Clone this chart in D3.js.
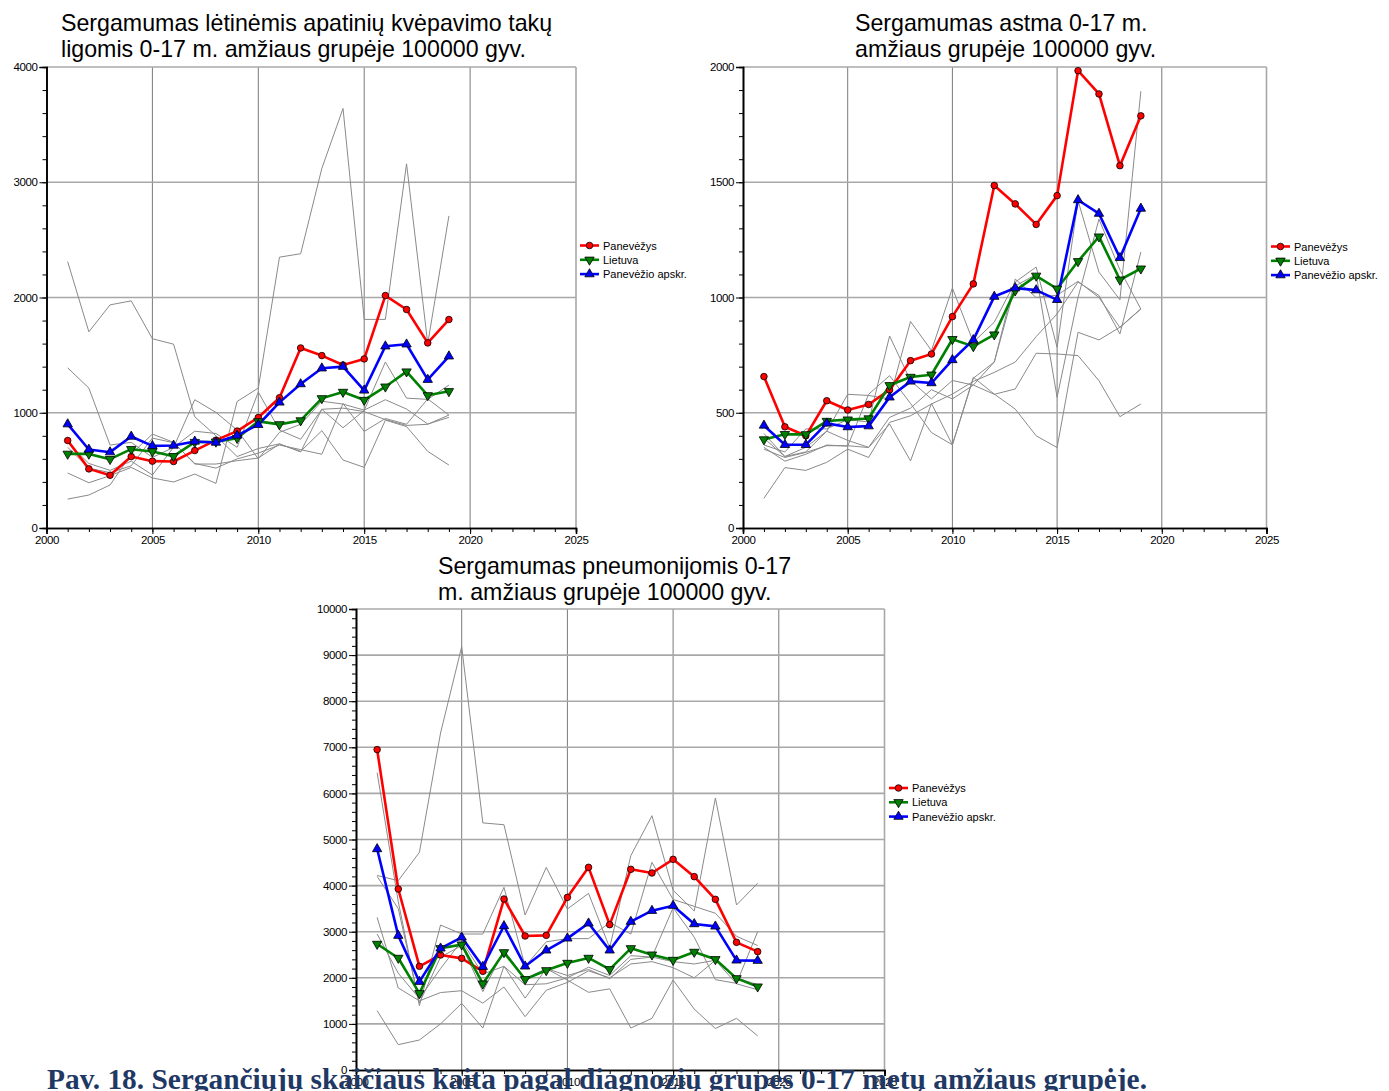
<!DOCTYPE html>
<html>
<head>
<meta charset="utf-8">
<script src="https://cdn.jsdelivr.net/npm/d3@7"></script>
<style>
  body { margin: 0; background: #fff; }
  svg text { font-family: "Liberation Sans", Arial, sans-serif; }
  svg text.caption { font-family: "Liberation Serif", "Times New Roman", serif; }
</style>
</head>
<body>
<svg id="chart" width="1389" height="1091"></svg>
<script>
// Years shown on every panel
const years = [2001, 2002, 2003, 2004, 2005, 2006, 2007, 2008, 2009, 2010,
               2011, 2012, 2013, 2014, 2015, 2016, 2017, 2018, 2019];
const legendLabels = ["Panevėžys", "Lietuva", "Panevėžio apskr."];
const xGridYears = [2005, 2010, 2015, 2020];
const xLabelYears = [2000, 2005, 2010, 2015, 2020, 2025];

// Panel 1: chronic lower respiratory diseases
const copdTitle = ["Sergamumas lėtinėmis apatinių kvėpavimo takų", "ligomis 0-17 m. amžiaus grupėje 100000 gyv."];
const copdPanevezys = [759, 513, 458, 620, 580, 577, 672, 762, 841, 959, 1130, 1562, 1496, 1414, 1467, 2017, 1896, 1606, 1809];
const copdLietuva   = [643, 643, 597, 684, 664, 623, 745, 748, 780, 925, 899, 933, 1125, 1180, 1110, 1226, 1357, 1151, 1186];
const copdApskr     = [901, 681, 658, 794, 713, 716, 751, 742, 803, 896, 1090, 1249, 1386, 1400, 1194, 1577, 1594, 1287, 1490];
const copdOthers = [
  [2311, 1702, 1936, 1971, 1642, 1595, 965, 800, 620, 690, 730, 660, 1030, 1040, 1010, 940, 890, 900, 980],
  [1390, 1214, 720, 743, 613, 699, 1113, 1003, 850, 600, 830, 900, 1100, 1075, 1023, 1113, 1032, 902, 960],
  [477, 393, 454, 526, 434, 399, 468, 387, 1098, 1214, 2350, 2380, 3120, 3640, 1810, 1810, 3160, 1600, 2708],
  [251, 286, 373, 642, 815, 743, 555, 555, 584, 607, 728, 665, 844, 590, 526, 936, 880, 665, 546],
  [740, 560, 500, 580, 460, 700, 840, 820, 700, 1180, 850, 770, 1030, 870, 1020, 1440, 1127, 1116, 1240],
  [700, 520, 480, 540, 780, 740, 560, 520, 600, 650, 720, 680, 640, 1080, 838, 950, 900, 1120, 980]
];

// Panel 2: asthma
const asthmaTitle = ["Sergamumas astma 0-17 m.", "amžiaus grupėje 100000 gyv."];
const asthmaPanevezys = [657, 439, 400, 552, 512, 536, 599, 726, 755, 917, 1059, 1486, 1406, 1317, 1442, 1984, 1883, 1572, 1788];
const asthmaLietuva   = [384, 407, 406, 464, 470, 475, 619, 655, 665, 819, 788, 839, 1030, 1094, 1038, 1157, 1264, 1077, 1125];
const asthmaApskr     = [445, 361, 361, 454, 438, 442, 567, 636, 629, 729, 816, 1004, 1041, 1032, 990, 1423, 1364, 1172, 1386];
const asthmaOthers = [
  [129, 262, 250, 285, 342, 306, 458, 487, 538, 581, 636, 675, 720, 830, 929, 1067, 1009, 842, 1197],
  [342, 306, 328, 357, 357, 349, 451, 291, 540, 361, 654, 581, 516, 400, 349, 849, 816, 871, 951],
  [390, 310, 330, 420, 580, 575, 560, 896, 770, 1041, 806, 893, 1067, 1132, 784, 1420, 1110, 990, 1895],
  [360, 330, 430, 430, 470, 460, 833, 639, 560, 640, 620, 580, 603, 758, 755, 748, 639, 483, 538],
  [350, 290, 320, 360, 355, 580, 661, 540, 414, 361, 650, 720, 1050, 1100, 567, 1000, 1340, 1120, 950],
  [410, 310, 350, 420, 380, 350, 480, 520, 600, 560, 620, 720, 1080, 1000, 1010, 1070, 1000, 870, 950]
];

// Panel 3: pneumonia
const pneuTitle = ["Sergamumas pneumonijomis 0-17", "m. amžiaus grupėje 100000 gyv."];
const pneuPanevezys = [6950, 3926, 2249, 2495, 2422, 2140, 3709, 2907, 2921, 3745, 4396, 3153, 4353, 4273, 4570, 4194, 3702, 2769, 2567];
const pneuLietuva   = [2733, 2430, 1663, 2639, 2719, 1873, 2552, 1967, 2162, 2321, 2430, 2184, 2639, 2502, 2386, 2560, 2401, 1988, 1808];
const pneuApskr     = [4794, 2914, 1916, 2639, 2878, 2241, 3124, 2249, 2596, 2856, 3182, 2596, 3218, 3456, 3565, 3167, 3116, 2379, 2372];
const pneuOthers = [
  [4220, 4107, 4722, 7310, 9183, 5360, 5320, 3362, 4396, 3492, 3832, 2650, 4650, 5516, 3900, 3450, 5900, 3580, 4050],
  [6450, 3651, 1395, 3145, 2950, 2950, 3962, 2250, 2780, 2850, 2850, 3200, 2950, 4505, 3700, 3550, 3400, 2900, 2700],
  [1287, 550, 651, 1000, 1446, 911, 2250, 1560, 2200, 1950, 1685, 1760, 911, 1120, 1952, 1320, 900, 1120, 740],
  [3311, 1780, 1500, 1680, 1720, 1450, 1800, 1157, 1730, 1900, 2150, 2000, 2300, 2350, 2220, 2000, 2380, 1870, 1740],
  [2950, 2100, 1550, 2200, 2800, 2080, 2250, 1850, 1870, 2000, 2230, 2050, 2480, 2450, 3520, 2880, 1960, 1880, 3000],
  [4200, 3500, 1450, 2450, 2700, 1700, 2600, 1980, 2200, 2050, 2180, 1980, 2400, 2450, 2350, 2300, 2380, 2000, 1850]
];

const caption = "Pav. 18. Sergančiųjų skaičiaus kaita pagal diagnozių grupes 0-17 metų amžiaus grupėje.";

const svg = d3.select("#chart");
const seriesColors = ["#ff0000", "#008000", "#0000ff"];

function drawMarker(sel, kind, color) {
  if (kind === 0) {
    sel.append("circle").attr("r", 3.3).attr("fill", color)
      .attr("stroke", "#000").attr("stroke-width", 0.8);
  } else {
    sel.append("path")
      .attr("d", d3.symbol().type(d3.symbolTriangle).size(38)())
      .attr("transform", kind === 1 ? "rotate(180)" : null)
      .attr("fill", color).attr("stroke", "#000").attr("stroke-width", 0.8);
  }
}

function drawPanel(p) {
  const g = svg.append("g");
  const x = d3.scaleLinear().domain([2000, 2025]).range([p.left, p.right]);
  const y = d3.scaleLinear().domain([0, p.yMax]).range([p.bottom, p.top]);
  const majors = d3.range(0, p.yMax + 1, p.yStep);

  // grid
  g.selectAll(".vgrid").data(xGridYears).join("line")
    .attr("x1", d => x(d)).attr("x2", d => x(d))
    .attr("y1", p.top).attr("y2", p.bottom)
    .attr("stroke", "#7a7a7a").attr("stroke-width", 1);
  g.selectAll(".hgrid").data(majors.filter(v => v > 0)).join("line")
    .attr("x1", p.left).attr("x2", p.right)
    .attr("y1", d => y(d)).attr("y2", d => y(d))
    .attr("stroke", "#a8a8a8").attr("stroke-width", 1.6);
  g.append("line").attr("x1", p.right).attr("x2", p.right)
    .attr("y1", p.top).attr("y2", p.bottom)
    .attr("stroke", "#a8a8a8").attr("stroke-width", 1.6);

  // other municipalities
  const line = d3.line().x((d, i) => x(years[i])).y(d => y(d));
  p.others.forEach(s => {
    g.append("path").attr("d", line(s)).attr("fill", "none")
      .attr("stroke", "#8a8a8a").attr("stroke-width", 1);
  });

  // highlighted series
  p.series.forEach((s, k) => {
    g.append("path").attr("d", line(s)).attr("fill", "none")
      .attr("stroke", seriesColors[k]).attr("stroke-width", 2.6)
      .attr("stroke-linejoin", "round");
  });
  p.series.forEach((s, k) => {
    s.forEach((v, i) => {
      const m = g.append("g").attr("transform", `translate(${x(years[i])},${y(v)})`);
      drawMarker(m, k, seriesColors[k]);
    });
  });

  // axes
  const yMinor = g.append("g").attr("transform", `translate(${p.left},0)`)
    .call(d3.axisLeft(y).tickValues(d3.range(0, p.yMax + 1, p.yMinor)).tickSize(4).tickFormat(""));
  const yMajor = g.append("g").attr("transform", `translate(${p.left},0)`)
    .call(d3.axisLeft(y).tickValues(majors).tickSize(7).tickPadding(2).tickFormat(d3.format("d")));
  const xMinor = g.append("g").attr("transform", `translate(0,${p.bottom})`)
    .call(d3.axisBottom(x).tickValues(d3.range(2000, 2026, 1)).tickSize(4).tickFormat(""));
  const xMajor = g.append("g").attr("transform", `translate(0,${p.bottom})`)
    .call(d3.axisBottom(x).tickValues(xLabelYears).tickSize(6).tickPadding(2).tickFormat(d3.format("d")));
  [yMinor, yMajor, xMinor, xMajor].forEach(a => {
    a.select(".domain").attr("stroke", "#000").attr("stroke-width", 1.6);
    a.selectAll(".tick line").attr("stroke", "#000").attr("stroke-width", 1);
    a.selectAll("text").attr("font-size", 11.5).attr("fill", "#000")
      .attr("font-family", null).attr("letter-spacing", -0.4);
  });

  // title
  p.title.forEach((t, i) => {
    g.append("text").attr("x", p.titleX).attr("y", p.titleY + i * 26)
      .attr("font-size", 23.2).attr("fill", "#000").text(t);
  });

  // legend
  legendLabels.forEach((lab, k) => {
    const ly = p.legendY + k * 14.3;
    g.append("line").attr("x1", p.legendX).attr("x2", p.legendX + 19)
      .attr("y1", ly).attr("y2", ly)
      .attr("stroke", seriesColors[k]).attr("stroke-width", 2.6);
    drawMarker(g.append("g").attr("transform", `translate(${p.legendX + 9.5},${ly})`), k, seriesColors[k]);
    g.append("text").attr("x", p.legendX + 23).attr("y", ly + 4)
      .attr("font-size", 11).text(lab);
  });
}

drawPanel({
  left: 46.5, right: 576, top: 67, bottom: 528,
  yMax: 4000, yStep: 1000, yMinor: 200,
  title: copdTitle, titleX: 61, titleY: 31,
  legendX: 580, legendY: 245.5,
  series: [copdPanevezys, copdLietuva, copdApskr], others: copdOthers
});

drawPanel({
  left: 743, right: 1266.5, top: 67, bottom: 528,
  yMax: 2000, yStep: 500, yMinor: 100,
  title: asthmaTitle, titleX: 855, titleY: 31,
  legendX: 1271, legendY: 246.5,
  series: [asthmaPanevezys, asthmaLietuva, asthmaApskr], others: asthmaOthers
});

drawPanel({
  left: 356, right: 884.5, top: 609, bottom: 1070,
  yMax: 10000, yStep: 1000, yMinor: 200,
  title: pneuTitle, titleX: 438, titleY: 574,
  legendX: 889, legendY: 788,
  series: [pneuPanevezys, pneuLietuva, pneuApskr], others: pneuOthers
});

// figure caption, drawn over the lower axis like in the document
svg.append("text")
  .attr("class", "caption")
  .attr("x", 47).attr("y", 1088.5)
  .attr("font-weight", "bold").attr("font-size", 29.5)
  .attr("fill", "#1f3864")
  .attr("textLength", 1100).attr("lengthAdjust", "spacingAndGlyphs")
  .text(caption);
</script>
</body>
</html>
